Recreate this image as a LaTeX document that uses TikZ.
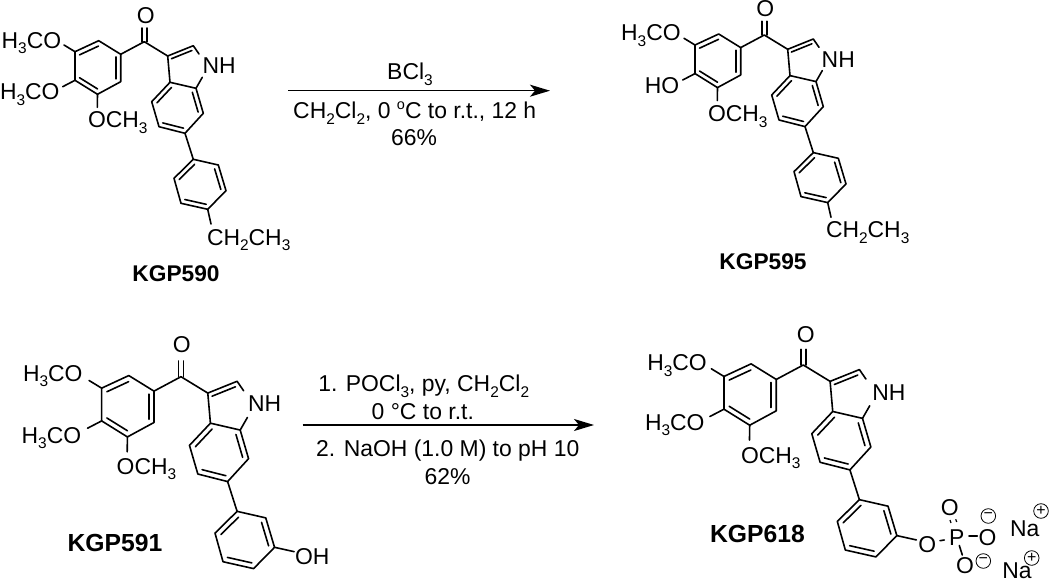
\documentclass[tikz,border=0pt]{standalone}
\usepackage{fontspec}
\setmainfont{Liberation Sans}
\usetikzlibrary{calc,arrows.meta}
\newcommand{\chs}[1]{\raisebox{-0.24em}{\fontsize{15.5}{15.5}\selectfont #1}}
\newcommand{\dblin}[3]{\draw[bond] ($(#1)!.2!(#3)$) -- ($(#2)!.2!(#3)$);}
% #1 prefix, #2 x, #3 y, #4 scale : the aryl-carbonyl-indole-phenyl skeleton
\newcommand{\skeleton}[4]{%
 \begin{scope}[shift={(#2,#3)},scale=#4]
  \coordinate (#1co) at (0,0);
  \coordinate (#1oe) at (0,-13.7);
  \coordinate (#1a1) at (-69.3,10);
  \coordinate (#1a2) at (-45.6,-1);
  \coordinate (#1a3) at (-23.6,12.6);
  \coordinate (#1a4) at (-23.6,40);
  \coordinate (#1a5) at (-46.8,52.6);
  \coordinate (#1a6) at (-69.3,38.6);
  \coordinate (#1e1) at (-80.3,3.3);
  \coordinate (#1e6) at (-81.6,45);
  \coordinate (#1e5) at (-47,65.6);
  \coordinate (#1ac) at (-46.5,25.8);
  \coordinate (#1c3) at (23.4,14.3);
  \coordinate (#1c2) at (49,4);
  \coordinate (#1c2e) at (54.7,12.3);
  \coordinate (#1ne) at (58,35.6);
  \coordinate (#1c7a) at (51.7,46.6);
  \coordinate (#1c3a) at (25.7,40.6);
  \coordinate (#1c4) at (7.4,60);
  \coordinate (#1c5) at (14.7,85);
  \coordinate (#1c6) at (40.7,91.6);
  \coordinate (#1c7) at (59,71.6);
  \coordinate (#1pc) at (42,28);
  \coordinate (#1bc) at (33.2,66);
  \coordinate (#1p1) at (49,117.6);
  \coordinate (#1p2) at (74,123.3);
  \coordinate (#1p3) at (81.7,149);
  \coordinate (#1p4) at (63.4,167.6);
  \coordinate (#1p5) at (36.7,161.6);
  \coordinate (#1p6) at (29.7,136.6);
  \coordinate (#1rc) at (55.7,142.6);
  \coordinate (#1eth) at (66.7,182.3);
  \coordinate (#1oh) at (98.8,152.8);
 \end{scope}
 \draw[bond] (#1a1) -- (#1a2) -- (#1a3) -- (#1a4) -- (#1a5) -- (#1a6) -- cycle;
 \dblin{#1a1}{#1a2}{#1ac}\dblin{#1a3}{#1a4}{#1ac}\dblin{#1a5}{#1a6}{#1ac}
 \draw[bond] (#1a1) -- (#1e1);
 \draw[bond] (#1a6) -- (#1e6);
 \draw[bond] (#1a5) -- (#1e5);
 \draw[bond] (#1a3) -- (#1co) -- (#1c3);
 \draw[bond] ([xshift=-2.5bp]#1co) -- ([xshift=-2.5bp]#1oe);
 \draw[bond] ([xshift=2.5bp]#1co) -- ([xshift=2.5bp]#1oe);
 \draw[bond] (#1c3a) -- (#1c3) -- (#1c2) -- (#1c2e);
 \dblin{#1c3}{#1c2}{#1pc}
 \draw[bond] (#1ne) -- (#1c7a);
 \draw[bond] (#1c3a) -- (#1c4) -- (#1c5) -- (#1c6) -- (#1c7) -- (#1c7a) -- cycle;
 \dblin{#1c3a}{#1c4}{#1bc}\dblin{#1c5}{#1c6}{#1bc}\dblin{#1c7}{#1c7a}{#1bc}
 \draw[bond] (#1c6) -- (#1p1);
 \draw[bond] (#1p1) -- (#1p2) -- (#1p3) -- (#1p4) -- (#1p5) -- (#1p6) -- cycle;
 \dblin{#1p1}{#1p6}{#1rc}\dblin{#1p2}{#1p3}{#1rc}\dblin{#1p4}{#1p5}{#1rc}
}
\tikzset{
 bond/.style={line width=1.6bp,black,line cap=round,line join=round},
 lab/.style={inner sep=0pt,outer sep=0pt,anchor=base west,font=\fontsize{23}{26}\selectfont},
 labc/.style={lab,anchor=base},
 cmpd/.style={lab,anchor=base,font=\fontsize{22.8}{26}\selectfont\bfseries},
 cmpdb/.style={lab,anchor=base,font=\fontsize{24.8}{26}\selectfont\bfseries},
 rxn/.style={line width=1.6bp,black,-{Stealth[length=20bp,width=12bp,inset=5bp]}},
 chg/.style={circle,draw,line width=0.8bp,minimum size=14.6bp,inner sep=0pt,outer sep=0pt,font=\fontsize{16}{16}\selectfont},
}
\begin{document}
\begin{tikzpicture}[x=1bp,y=-1bp]
\useasboundingbox (0,0) rectangle (1050,582);
% KGP590
\skeleton{A}{144.3}{41.7}{1}
\draw[bond] (Ap4) -- (Aeth);
\node[lab] (Am1) at (1.7,48.3) {H\chs{3}CO};
\node[lab] (Am2) at (0,100) {H\chs{3}CO};
\node[lab] (Am3) at (88,127.7) {OCH\chs{3}};
\node[labc] (Aox) at (145.7,23.3) {O};
\node[lab] (Anh) at (202.7,74) {NH};
\node[lab] (Aet) at (207,245.5) {CH\chs{2}CH\chs{3}};
\node[cmpd] (Aname) at (176,281.7) {KGP590};
% KGP595
\skeleton{B}{764.3}{35}{1}
\draw[bond] (Bp4) -- (Beth);
\node[lab,anchor=base east] (Bm1) at (680.7,40.7) {H\chs{3}CO};
\node[lab,anchor=base east] (Bho) at (679.3,93.3) {HO};
\node[lab] (Bm3) at (708,121.7) {OCH\chs{3}};
\node[labc] (Box) at (765.3,16.7) {O};
\node[lab] (Bnh) at (821.7,67.7) {NH};
\node[lab] (Bet) at (826,238) {CH\chs{2}CH\chs{3}};
\node[cmpd] (Bname) at (763,269.3) {KGP595};
% KGP591
\skeleton{C}{181}{376.7}{1.145}
\draw[bond] (Cp3) -- (Coh);
\node[lab] (Cm1) at (23,381) {H\chs{3}CO};
\node[lab] (Cm2) at (21.7,443.3) {H\chs{3}CO};
\node[lab] (Cm3) at (116.7,474) {OCH\chs{3}};
\node[labc] (Cox) at (181.7,352.7) {O};
\node[lab] (Cnh) at (248,411.7) {NH};
\node[lab] (Coht) at (295,564.3) {OH};
\node[cmpdb] (Cname) at (115,551.7) {KGP591};
% KGP618
\skeleton{D}{803.3}{365}{1.145}
\draw[bond] (Dp3) -- (Doh);
\node[lab] (Dm1) at (647.3,370.7) {H\chs{3}CO};
\node[lab] (Dm2) at (645,430) {H\chs{3}CO};
\node[lab] (Dm3) at (741,463.3) {OCH\chs{3}};
\node[labc] (Dox) at (805.7,342.7) {O};
\node[lab] (Dnh) at (872.3,400) {NH};
\node[cmpdb] (Dname) at (757.5,542.7) {KGP618};
% phosphate
\node[labc] (O1) at (927.3,552.7) {O};
\node[labc] (Pp) at (956.8,545.5) {P};
\node[labc] (O2) at (949.7,515) {O};
\node[labc] (O3) at (987.5,545.3) {O};
\node[labc] (O4) at (965,573.3) {O};
\coordinate (s1) at (940,540.7); \coordinate (s2) at (944.3,540);
\draw[bond] (s1) -- (s2);
\coordinate (s3) at (969,535.7); \coordinate (s4) at (977.3,535.7);
\draw[bond] (s3) -- (s4);
\coordinate (s5) at (959.3,545.5); \coordinate (s6) at (962.3,555);
\draw[bond] (s5) -- (s6);
\coordinate (s7) at (950,520); \coordinate (s8) at (951,523);
\draw[line width=1.2bp] (s7) -- (s8);
\coordinate (s9) at (955.7,519.3); \coordinate (s10) at (956.7,522);
\draw[line width=1.2bp] (s9) -- (s10);
\node[chg] (m1) at (988.3,516) {−};
\node[chg] (m2) at (983.3,561) {−};
\node[lab] (Na1) at (1010,536.7) {Na};
\node[lab] (Na2) at (1002.3,578) {Na};
\node[chg] (p1) at (1041,511) {+};
\node[chg] (p2) at (1031.7,558) {+};
% first reaction
\coordinate (r1s) at (288.3,90.7);
\coordinate (r1e) at (550,90.7);
\draw[rxn] (r1s) -- (r1e);
\node[labc] (t1) at (410,80) {BCl\chs{3}};
\node[labc] (t2) at (414.7,119) {CH\chs{2}Cl\chs{2}, 0 \raisebox{0.42em}{\fontsize{14.5}{14.5}\selectfont o}C to r.t., 12 h};
\node[labc] (t3) at (414,146) {66\%};
% second reaction
\coordinate (r2s) at (302.7,425);
\coordinate (r2e) at (594,425);
\draw[rxn] (r2s) -- (r2e);
\node[labc] (u1) at (423.7,391.7) {1. POCl\chs{3}, py, CH\chs{2}Cl\chs{2}};
\node[labc] (u2) at (422.8,419) {0 °C to r.t.};
\node[labc] (u3) at (447.8,456.7) {2. NaOH (1.0 M) to pH 10};
\node[labc] (u4) at (447.5,484) {62\%};
\end{tikzpicture}
\end{document}
